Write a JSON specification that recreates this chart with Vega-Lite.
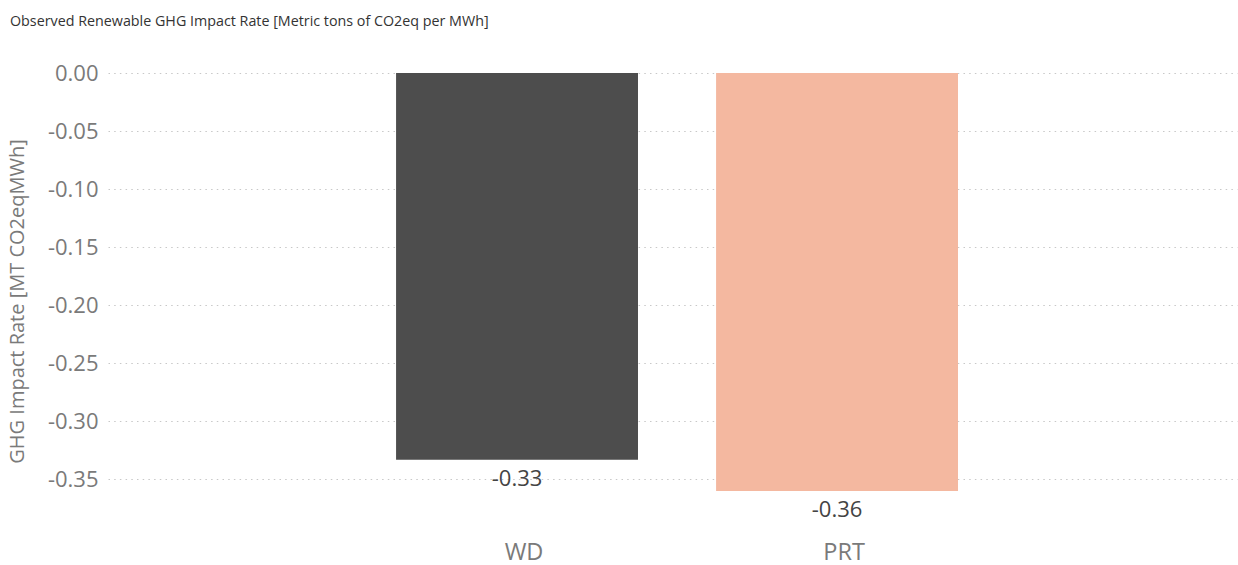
{
  "$schema": "https://vega.github.io/schema/vega-lite/v6.json",
  "autosize": {"type": "none"},
  "padding": {"left": 108, "top": 73, "right": 1, "bottom": 74},
  "width": 1129,
  "height": 418,
  "background": "white",
  "config": {
    "view": {"stroke": null},
    "locale": {
      "number": {
        "decimal": ".",
        "thousands": ",",
        "grouping": [3],
        "currency": ["$", ""],
        "minus": "-"
      }
    }
  },
  "title": {
    "text": "Observed Renewable GHG Impact Rate [Metric tons of CO2eq per MWh]",
    "anchor": "start",
    "frame": "group",
    "font": "Open Sans",
    "fontSize": 14.3,
    "fontWeight": "normal",
    "color": "#333333",
    "dx": -98,
    "offset": 33
  },
  "data": {
    "values": [
      {"group": "WD", "rate": -0.333},
      {"group": "PRT", "rate": -0.36}
    ]
  },
  "encoding": {
    "x": {
      "field": "group",
      "type": "nominal",
      "sort": ["WD", "PRT"],
      "scale": {"paddingInner": 0.244, "paddingOuter": 0.886, "align": 0.508},
      "axis": {
        "title": null,
        "labelAngle": 0,
        "labelFont": "Open Sans",
        "labelFontSize": 23.5,
        "labelColor": "#7a7a7a",
        "labelPadding": 49,
        "labelOffset": 7,
        "ticks": false,
        "domain": false
      }
    },
    "y": {
      "field": "rate",
      "type": "quantitative",
      "scale": {"domain": [-0.36, 0], "nice": false, "zero": false},
      "axis": {
        "title": "GHG Impact Rate [MT CO2eqMWh]",
        "titleFont": "Open Sans",
        "titleFontSize": 20,
        "titleFontWeight": "normal",
        "titleColor": "#7a7a7a",
        "titleX": -81,
        "titleY": 228,
        "titleAlign": "center",
        "titleAngle": -90,
        "values": [0, -0.05, -0.1, -0.15, -0.2, -0.25, -0.3, -0.35],
        "format": ".2f",
        "labelFont": "Open Sans",
        "labelFontSize": 22,
        "labelColor": "#7a7a7a",
        "labelPadding": 10,
        "ticks": false,
        "domain": false,
        "grid": true,
        "gridColor": "#c8c8c8",
        "gridDash": [1.5, 4.2],
        "gridWidth": 1
      }
    }
  },
  "layer": [
    {
      "mark": {"type": "bar"},
      "encoding": {
        "y2": {"datum": 0},
        "color": {
          "field": "group",
          "type": "nominal",
          "scale": {"domain": ["WD", "PRT"], "range": ["#4d4d4d", "#f4b8a0"]},
          "legend": null
        }
      }
    },
    {
      "mark": {
        "type": "text",
        "baseline": "top",
        "align": "center",
        "dy": 9,
        "font": "Open Sans",
        "fontSize": 22,
        "color": "#444444"
      },
      "encoding": {
        "text": {"field": "rate", "type": "quantitative", "format": ".2f"}
      }
    }
  ]
}
